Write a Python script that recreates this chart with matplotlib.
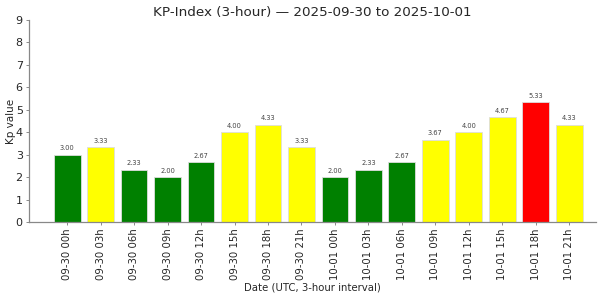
import matplotlib
matplotlib.use("Agg")
import matplotlib.pyplot as plt

# Kp values (3-hour) for 2025-09-30 and 2025-10-01
labels = ["09-30 00h", "09-30 03h", "09-30 06h", "09-30 09h", "09-30 12h",
          "09-30 15h", "09-30 18h", "09-30 21h", "10-01 00h", "10-01 03h",
          "10-01 06h", "10-01 09h", "10-01 12h", "10-01 15h", "10-01 18h",
          "10-01 21h"]
kp = [3.00, 3.33, 2.33, 2.00, 2.67, 4.00, 4.33, 3.33,
      2.00, 2.33, 2.67, 3.67, 4.00, 4.67, 5.33, 4.33]


def kp_color(v):
    if v >= 5:
        return "red"
    if v > 3:
        return "yellow"
    return "green"


colors = [kp_color(v) for v in kp]
txt = "#262626"

fig = plt.figure(figsize=(6, 2.97), dpi=100)
ax = fig.add_axes([29 / 600, 1 - 222 / 297, 567 / 600, 202 / 297])

x = list(range(len(kp)))
bars = ax.bar(x, kp, width=0.8, color=colors, edgecolor="#dddddd", linewidth=0.6)
for b, v in zip(bars, kp):
    ax.text(b.get_x() + b.get_width() / 2, v + 0.15, f"{v:.2f}",
            ha="center", va="bottom", fontsize=4.8, color="#444444")

ax.set_ylim(0, 9)
ax.set_yticks(range(10))
ax.set_xlim(-1.14, 15.8)
ax.set_xticks(x)
ax.set_xticklabels(labels, rotation=90)
ax.tick_params(colors="#777777", length=2.5, width=0.6)
ax.tick_params(axis="x", labelsize=7.3, labelcolor=txt, pad=2)
ax.tick_params(axis="y", labelsize=8, labelcolor=txt, pad=2)
ax.set_title("KP-Index (3-hour) — 2025-09-30 to 2025-10-01", fontsize=9.7,
             color=txt, pad=3)
ax.set_ylabel("Kp value", fontsize=7.5, color=txt, labelpad=0)
ax.set_xlabel("Date (UTC, 3-hour interval)", fontsize=7.3, color=txt, labelpad=2)
for s in ["top", "right"]:
    ax.spines[s].set_visible(False)
for s in ["left", "bottom"]:
    ax.spines[s].set_color("#888888")
    ax.spines[s].set_linewidth(0.9)

fig.savefig("out.png", dpi=100)
